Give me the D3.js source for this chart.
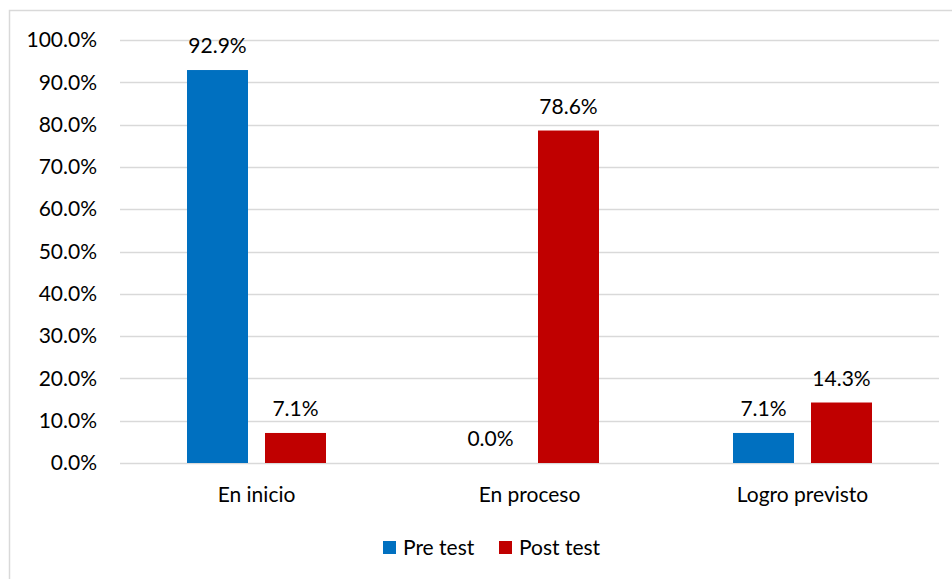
<!DOCTYPE html>
<html>
<head>
<meta charset="utf-8">
<script src="https://cdn.jsdelivr.net/npm/d3@7"></script>
<style>
  body { margin: 0; background: #fff; }
  text { font-family: Lato, "Open Sans", sans-serif; fill: #000; }
</style>
</head>
<body>
<script>
var categories = ['En inicio', 'En proceso', 'Logro previsto'];
var seriesNames = ['Pre test', 'Post test'];
var preTest = [92.9, 0.0, 7.1];
var postTest = [7.1, 78.6, 14.3];
var yTicks = [0, 10, 20, 30, 40, 50, 60, 70, 80, 90, 100];
var colors = ['#0070C0', '#C00000'];

var width = 952, height = 579;
var plot = { left: 120, right: 939, top: 40, bottom: 463 };
var fontSize = '21px';

var svg = d3.select('body').append('svg')
  .attr('width', width)
  .attr('height', height);

// outer chart border
svg.append('rect')
  .attr('x', 9.5).attr('y', 10.5)
  .attr('width', 960).attr('height', 600)
  .attr('fill', 'none')
  .attr('stroke', '#d9d9d9')
  .attr('stroke-width', 1.5);

var y = d3.scaleLinear().domain([0, 100]).range([plot.bottom, plot.top]);
var x0 = d3.scaleBand().domain(categories).range([plot.left, plot.right]).padding(0);
var x1 = d3.scaleBand().domain(seriesNames).range([0, x0.bandwidth()])
  .paddingInner(0.218).paddingOuter(0.859);

// gridlines
svg.append('g').selectAll('line')
  .data(yTicks)
  .enter().append('line')
  .attr('x1', plot.left).attr('x2', plot.right)
  .attr('y1', function(d) { return Math.round(y(d)) + 0.5; })
  .attr('y2', function(d) { return Math.round(y(d)) + 0.5; })
  .attr('stroke', '#d9d9d9')
  .attr('stroke-width', 1.5);

// y axis labels
var yAxis = d3.axisLeft(y).tickValues(yTicks)
  .tickFormat(function(d) { return d.toFixed(1) + '%'; })
  .tickSize(0).tickPadding(0);
var ya = svg.append('g')
  .attr('transform', 'translate(97,0)')
  .call(yAxis);
ya.select('.domain').remove();
ya.selectAll('text')
  .style('font-size', fontSize)
  .style('font-family', 'Lato, sans-serif')
  .attr('fill', '#000');

// x axis labels
var xAxis = d3.axisBottom(x0).tickSize(0).tickPadding(0);
var xa = svg.append('g')
  .attr('transform', 'translate(0,' + plot.bottom + ')')
  .call(xAxis);
xa.select('.domain').remove();
xa.selectAll('text')
  .attr('dy', null)
  .attr('y', 39)
  .style('font-size', fontSize)
  .style('font-family', 'Lato, sans-serif')
  .attr('fill', '#000');

var rows = categories.map(function(c, i) {
  return { cat: c, values: [preTest[i], postTest[i]] };
});

var groups = svg.append('g').selectAll('g')
  .data(rows)
  .enter().append('g')
  .attr('transform', function(d) { return 'translate(' + x0(d.cat) + ',0)'; });

groups.selectAll('rect')
  .data(function(d) { return d.values.map(function(v, j) { return { s: seriesNames[j], v: v, j: j }; }); })
  .enter().append('rect')
  .attr('x', function(d) { return x1(d.s); })
  .attr('y', function(d) { return y(d.v); })
  .attr('width', x1.bandwidth())
  .attr('height', function(d) { return plot.bottom - y(d.v); })
  .attr('fill', function(d) { return colors[d.j]; });

groups.selectAll('text.val')
  .data(function(d) { return d.values.map(function(v, j) { return { s: seriesNames[j], v: v }; }); })
  .enter().append('text')
  .attr('class', 'val')
  .attr('x', function(d) { return x1(d.s) + x1.bandwidth() / 2; })
  .attr('y', function(d) { return y(d.v) - 17; })
  .attr('text-anchor', 'middle')
  .style('font-size', fontSize)
  .text(function(d) { return d.v.toFixed(1) + '%'; });

// legend
var legendX = [383, 499];
var legend = svg.append('g').selectAll('g')
  .data(seriesNames)
  .enter().append('g')
  .attr('transform', function(d, i) { return 'translate(' + legendX[i] + ',541)'; });
legend.append('rect')
  .attr('width', 13).attr('height', 13)
  .attr('fill', function(d, i) { return colors[i]; });
legend.append('text')
  .attr('x', 20).attr('y', 14)
  .style('font-size', fontSize)
  .text(function(d) { return d; });
</script>
</body>
</html>
